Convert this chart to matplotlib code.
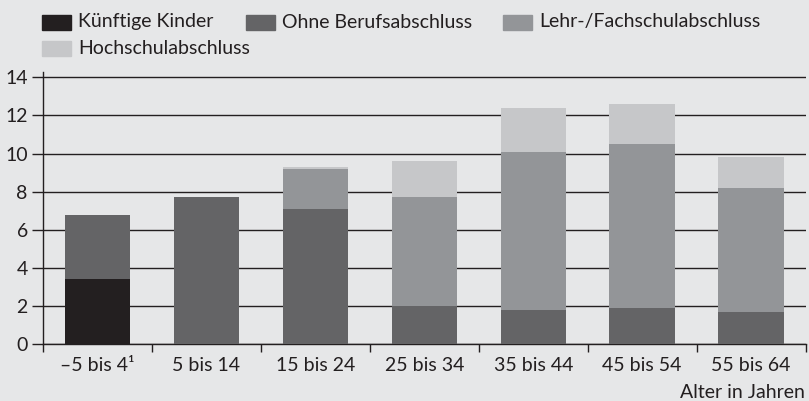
import numpy as np
import matplotlib.pyplot as plt
from matplotlib.patches import Rectangle

plt.rcParams['font.family'] = ['Lato', 'DejaVu Sans']

# age groups on the x axis
groups = ['–5 bis 4¹', '5 bis 14', '15 bis 24', '25 bis 34',
          '35 bis 44', '45 bis 54', '55 bis 64']

# stacked segments (millions), bottom to top
kinder = [3.4, 0, 0, 0, 0, 0, 0]
ohne = [3.4, 7.7, 7.1, 2.0, 1.8, 1.9, 1.7]
lehr = [0, 0, 2.1, 5.7, 8.3, 8.6, 6.5]
hoch = [0, 0, 0.1, 1.9, 2.3, 2.1, 1.6]

labels = ['Künftige Kinder', 'Ohne Berufsabschluss',
          'Lehr-/Fachschulabschluss', 'Hochschulabschluss']
colors = ['#231f20', '#646466', '#939598', '#c6c7c9']
bg = '#e6e7e8'
ink = '#231f20'


def main():
    fig = plt.figure(figsize=(8.09, 4.01), dpi=100, facecolor=bg)
    ax = fig.add_axes([0.0532, 0.1421, 0.9425, 0.6791])
    ax.set_facecolor(bg)

    x = np.arange(len(groups))
    bottom = np.zeros(len(groups))
    for vals, col in zip([kinder, ohne, lehr, hoch], colors):
        ax.bar(x, vals, width=0.6, bottom=bottom, color=col, zorder=3)
        bottom += np.array(vals)

    ax.set_xlim(-0.5, len(groups) - 0.5)
    ax.set_ylim(0, 14.3)
    ax.set_yticks(range(0, 15, 2))
    ax.yaxis.grid(True, color=ink, linewidth=1.0, zorder=1)

    ax.set_xticks(x)
    ax.set_xticklabels(groups)
    ax.set_xticks(np.arange(-0.5, len(groups)), minor=True)
    ax.tick_params(axis='x', which='major', length=0, pad=9,
                   labelsize=14, colors=ink)
    ax.tick_params(axis='x', which='minor', length=6, width=1.0,
                   color=ink)
    ax.tick_params(axis='y', length=8, width=1.0, pad=3,
                   labelsize=14, colors=ink)

    for s in ['top', 'right']:
        ax.spines[s].set_visible(False)
    for s in ['left', 'bottom']:
        ax.spines[s].set_color(ink)
        ax.spines[s].set_linewidth(1.0)

    fig.text(805 / 809, 1 - 392 / 401, 'Alter in Jahren', ha='right',
             va='center', fontsize=14, color=ink)

    # legend laid out by hand like the original
    W, H = 809, 401
    spots = [(42, 22), (246, 22), (503, 22), (42, 48)]
    for (px, py), lab, col in zip(spots, labels, colors):
        fig.patches.append(Rectangle((px / W, 1 - (py + 7.5) / H),
                                     29 / W, 15 / H, color=col,
                                     transform=fig.transFigure))
        fig.text((px + 36) / W, 1 - py / H, lab, ha='left', va='center',
                 fontsize=14, color=ink)

    fig.savefig('out.png', dpi=100, facecolor=bg)


if __name__ == "__main__":
    main()
